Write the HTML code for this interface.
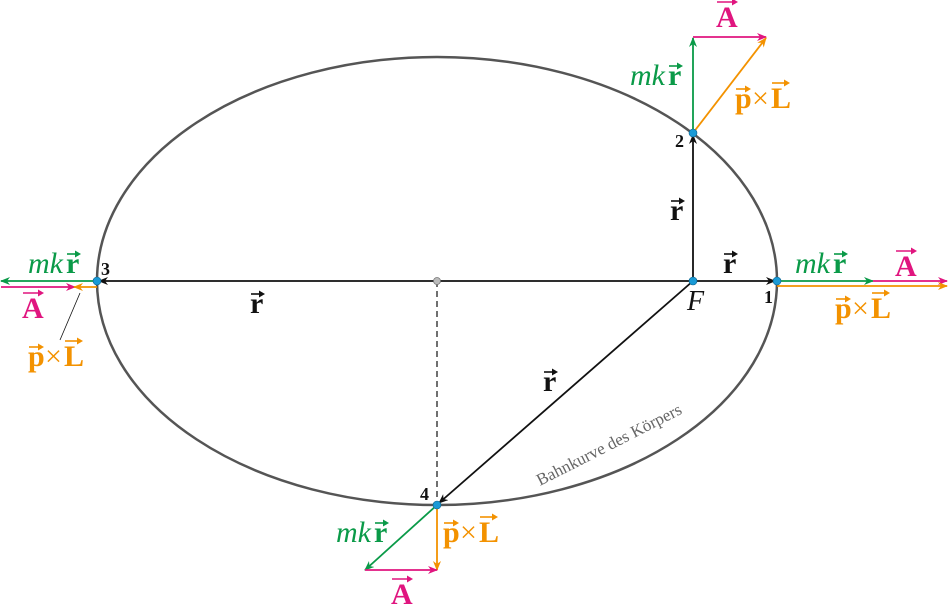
<!DOCTYPE html>
<html><head><meta charset="utf-8">
<style>
html,body{margin:0;padding:0;background:#fff;}
svg{display:block;}
text{font-family:"Liberation Serif",serif;}
</style></head>
<body>
<svg id="s" width="949" height="615" viewBox="0 0 949 615" xmlns="http://www.w3.org/2000/svg">
<defs>
<marker id="ak" markerWidth="10" markerHeight="8" refX="9" refY="4" orient="auto" markerUnits="userSpaceOnUse"><path d="M0,0 L10,4 L0,8 L3,4 Z" fill="#111"/></marker>
<marker id="ag" markerWidth="10" markerHeight="8" refX="9" refY="4" orient="auto" markerUnits="userSpaceOnUse"><path d="M0,0 L10,4 L0,8 L3,4 Z" fill="#0a9a48"/></marker>
<marker id="am" markerWidth="10" markerHeight="8" refX="9" refY="4" orient="auto" markerUnits="userSpaceOnUse"><path d="M0,0 L10,4 L0,8 L3,4 Z" fill="#e0157f"/></marker>
<marker id="ao" markerWidth="10" markerHeight="8" refX="9" refY="4" orient="auto" markerUnits="userSpaceOnUse"><path d="M0,0 L10,4 L0,8 L3,4 Z" fill="#f39200"/></marker>
</defs>
<ellipse cx="437" cy="281" rx="340" ry="224" fill="none" stroke="#555" stroke-width="2.5"/>
<line x1="437" y1="281" x2="437" y2="505" stroke="#111" stroke-width="1.2" stroke-dasharray="6,4"/>
<g stroke="#111" stroke-width="1.8" fill="none">
<line x1="693" y1="281" x2="775" y2="281" marker-end="url(#ak)"/>
<line x1="693" y1="281" x2="693" y2="135" marker-end="url(#ak)"/>
<line x1="693" y1="281" x2="99" y2="281" marker-end="url(#ak)"/>
<line x1="693" y1="281" x2="439" y2="503" marker-end="url(#ak)"/>
</g>
<g stroke-width="1.8" fill="none">
<line x1="693" y1="133" x2="693" y2="38" stroke="#0a9a48" marker-end="url(#ag)"/>
<line x1="693" y1="37" x2="766" y2="37" stroke="#e0157f" marker-end="url(#am)"/>
<line x1="693" y1="133" x2="766" y2="38" stroke="#f39200" marker-end="url(#ao)"/>
<line x1="777" y1="281" x2="873" y2="281" stroke="#0a9a48" marker-end="url(#ag)"/>
<line x1="873" y1="281" x2="947" y2="281" stroke="#e0157f" marker-end="url(#am)"/>
<line x1="777" y1="286" x2="947" y2="286" stroke="#f39200" marker-end="url(#ao)"/>
<line x1="97" y1="281" x2="1" y2="281" stroke="#0a9a48" marker-end="url(#ag)"/>
<line x1="1" y1="287" x2="75" y2="287" stroke="#e0157f" marker-end="url(#am)"/>
<line x1="97" y1="287" x2="74" y2="287" stroke="#f39200" marker-end="url(#ao)"/>
<line x1="437" y1="505" x2="365" y2="570" stroke="#0a9a48" marker-end="url(#ag)"/>
<line x1="437" y1="505" x2="437" y2="570" stroke="#f39200" marker-end="url(#ao)"/>
<line x1="365" y1="570" x2="437" y2="570" stroke="#e0157f" marker-end="url(#am)"/>
</g>
<line x1="80" y1="293" x2="60" y2="340" stroke="#111" stroke-width="0.8"/>
<g fill="#1a9ad6" stroke="#0b5f88" stroke-width="0.6">
<circle cx="777" cy="281" r="4"/><circle cx="693" cy="133" r="4"/>
<circle cx="97" cy="281" r="4"/><circle cx="437" cy="505" r="4"/>
<circle cx="693" cy="281" r="4"/>
</g>
<circle cx="437" cy="281" r="3.5" fill="#bbb" stroke="#777" stroke-width="0.8"/>
<g font-weight="bold" font-size="18" fill="#111">
<text x="764" y="303">1</text><text x="675" y="147">2</text>
<text x="101" y="275">3</text><text x="420" y="500">4</text>
</g>
<text x="687" y="310" font-style="italic" font-size="28" fill="#111">F</text>
<text x="540" y="486" font-size="17" fill="#666" transform="rotate(-27 540 486)">Bahnkurve des Körpers</text>
<g id="lab"></g>
</svg>
<script>
var NS="http://www.w3.org/2000/svg",lab=document.getElementById('lab');
function el(t,a,txt){var e=document.createElementNS(NS,t);for(var k in a)e.setAttribute(k,a[k]);if(txt)e.textContent=txt;lab.appendChild(e);return e;}
function arrow(x1,x2,y,c){el('line',{x1:x1,y1:y,x2:x2-3,y2:y,stroke:c,'stroke-width':1.6});el('path',{d:'M'+(x2-5)+','+(y-3.5)+' L'+(x2+1)+','+y+' L'+(x2-5)+','+(y+3.5)+' Z',fill:c});}
function vec(x,y,ch,c,sz,w,dy){el('text',{x:x,y:y,'font-size':sz,'font-weight':'bold',fill:c},ch);arrow(x+1,x+w,y-dy,c);}
function r(x,y,c){vec(x,y,'r',c||'#111',30,14,19);}
function mkr(x,y){el('text',{x:x,y:y,'font-size':30,'font-style':'italic',fill:'#0a9a48'},'mk');r(x+38,y,'#0a9a48');}
function A(x,y){vec(x,y,'A','#e0157f',30,21,25);}
function pxL(x,y){var c='#f39200';vec(x,y,'p',c,30,15,19);el('text',{x:x+17,y:y,'font-size':30,fill:c},'×');vec(x+36,y,'L',c,30,18,25);}
r(670,220);r(723,273);r(250,313);r(543,391);
mkr(630,85);A(716,27);pxL(735,108);
mkr(795,273);A(895,276);pxL(835,318);
mkr(28,273);A(22,318);pxL(28,366);
mkr(336,542);pxL(443,542);A(391,604);
</script>
</body></html>
